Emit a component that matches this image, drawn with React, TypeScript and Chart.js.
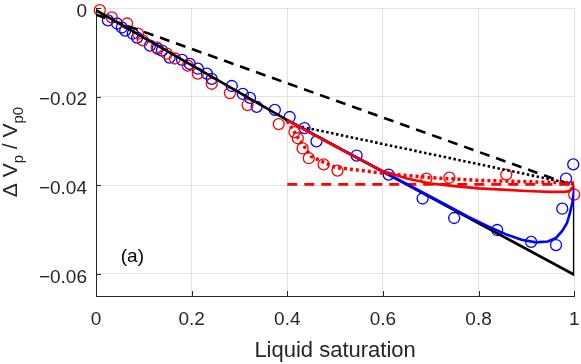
import React, { useEffect, useRef } from "react";
import { Chart, registerables } from "chart.js";
Chart.register(...registerables);

const xTickValues = [0, 0.2, 0.4, 0.6, 0.8, 1];
const yTickValues = [0, -0.02, -0.04, -0.06];
const xTitle = "Liquid saturation";
const panelLabel = "(a)";

const blueMarkerX = [0.025, 0.044, 0.054, 0.061, 0.077, 0.086, 0.113, 0.129, 0.138, 0.154, 0.18, 0.196, 0.213, 0.232, 0.242, 0.284, 0.307, 0.322, 0.336, 0.374, 0.405, 0.436, 0.461, 0.545, 0.612, 0.683, 0.749, 0.839, 0.91, 0.962, 0.975, 0.983, 0.998];
const blueMarkerY = [-0.0028, -0.0035, -0.0044, -0.0051, -0.0058, -0.0067, -0.0085, -0.0092, -0.0096, -0.0112, -0.0117, -0.0126, -0.0137, -0.0148, -0.016, -0.0176, -0.0194, -0.0203, -0.0223, -0.023, -0.0246, -0.0271, -0.0301, -0.0333, -0.0376, -0.043, -0.0474, -0.0501, -0.0528, -0.0535, -0.0453, -0.0385, -0.0353];

const redMarkerX = [0.008, 0.033, 0.065, 0.088, 0.098, 0.127, 0.148, 0.165, 0.192, 0.213, 0.242, 0.28, 0.317, 0.382, 0.415, 0.422, 0.432, 0.445, 0.476, 0.505, 0.691, 0.739, 0.858, 1.0];
const redMarkerY = [-0.0005, -0.0021, -0.0035, -0.0058, -0.0073, -0.0089, -0.0103, -0.0114, -0.013, -0.0148, -0.0171, -0.0192, -0.0219, -0.0262, -0.028, -0.0294, -0.0317, -0.0339, -0.0353, -0.0367, -0.0385, -0.0383, -0.0376, -0.0421];

const blackSolidX = [0, 0.4, 1, 1];
const blackSolidY = [-0.0005, -0.0253, -0.0602, -0.0398];

const blackDashedX = [0, 1];
const blackDashedY = [-0.0015, -0.0402];

const blackDottedX = [0.42, 1];
const blackDottedY = [-0.0266, -0.0398];

const redDashedX = [0.4, 1];
const redDashedY = [-0.0398, -0.0398];

const redDottedX = [0.4, 0.42, 0.45, 0.5, 0.55, 0.6, 0.7, 0.8, 0.9, 1.0];
const redDottedY = [-0.0255, -0.0289, -0.0335, -0.036, -0.0366, -0.0373, -0.0383, -0.0389, -0.0392, -0.0395];

const redSolidX = [0.4, 0.45, 0.5, 0.55, 0.6, 0.65, 0.7, 0.75, 0.8, 0.85, 0.9, 0.95, 0.98, 0.99, 1.0];
const redSolidY = [-0.0253, -0.0283, -0.0312, -0.0341, -0.0368, -0.0385, -0.0396, -0.0402, -0.0407, -0.041, -0.0413, -0.0415, -0.0415, -0.0413, -0.04];

const blueSolidX = [0.4, 0.5, 0.6, 0.7, 0.78, 0.82, 0.86, 0.89, 0.92, 0.945, 0.962, 0.975, 0.985, 0.991, 0.996, 0.999, 1.0];
const blueSolidY = [-0.0253, -0.0311, -0.0369, -0.0426, -0.0472, -0.0493, -0.0512, -0.0523, -0.0529, -0.0527, -0.0519, -0.0503, -0.0485, -0.0463, -0.044, -0.0418, -0.04];

const pts = (xs: number[], ys: number[]) => xs.map((x, i) => ({ x, y: ys[i] }));

const FONT = "'Liberation Sans', Arial, Helvetica, sans-serif";
const AXIS_COLOR = "#262626";

const overlayPlugin = {
  id: "overlay",
  beforeDatasetsDraw(chart: any) {
    const { ctx, chartArea, scales } = chart;
    const x = scales.x;
    const y = scales.y;
    ctx.save();
    ctx.strokeStyle = AXIS_COLOR;
    ctx.lineWidth = 1;
    ctx.beginPath();
    for (const v of xTickValues) {
      const px = Math.round(x.getPixelForValue(v)) + 0.5;
      ctx.moveTo(px, chartArea.bottom);
      ctx.lineTo(px, chartArea.bottom - 5);
    }
    for (const v of yTickValues) {
      const py = Math.round(y.getPixelForValue(v)) + 0.5;
      ctx.moveTo(chartArea.left, py);
      ctx.lineTo(chartArea.left + 5, py);
    }
    ctx.stroke();
    ctx.restore();
  },
  afterDraw(chart: any) {
    const { ctx, chartArea, scales } = chart;
    const x = scales.x;
    const y = scales.y;
    ctx.save();
    ctx.fillStyle = "#000";
    ctx.font = `19px ${FONT}`;
    ctx.textAlign = "center";
    ctx.textBaseline = "middle";
    ctx.fillText(panelLabel, x.getPixelForValue(0.076), y.getPixelForValue(-0.0562));

    ctx.fillStyle = AXIS_COLOR;
    ctx.font = `22px ${FONT}`;
    ctx.textAlign = "center";
    ctx.textBaseline = "middle";
    ctx.fillText(xTitle, (chartArea.left + chartArea.right) / 2, 351);

    const parts = [
      { t: "\u0394 V", size: 21, dy: 0 },
      { t: "p", size: 15, dy: 6 },
      { t: " / V", size: 21, dy: 0 },
      { t: "p0", size: 15, dy: 6 },
    ];
    let total = 0;
    const widths = parts.map((p) => {
      ctx.font = `${p.size}px ${FONT}`;
      const w = ctx.measureText(p.t).width;
      total += w;
      return w;
    });
    ctx.translate(17, (chartArea.top + chartArea.bottom) / 2);
    ctx.rotate(-Math.PI / 2);
    ctx.textAlign = "left";
    ctx.textBaseline = "alphabetic";
    let cx = -total / 2;
    parts.forEach((p, i) => {
      ctx.font = `${p.size}px ${FONT}`;
      ctx.fillText(p.t, cx, p.dy);
      cx += widths[i];
    });
    ctx.restore();
  },
};

export default function App() {
  const ref = useRef<HTMLCanvasElement | null>(null);
  useEffect(() => {
    if (!ref.current) return;
    const lineDs = (label: string, xs: number[], ys: number[], color: string, width: number, dash: number[], order: number) => ({
      label,
      data: pts(xs, ys),
      showLine: true,
      borderColor: color,
      backgroundColor: color,
      borderWidth: width,
      borderDash: dash,
      borderCapStyle: "butt",
      pointRadius: 0,
      pointHoverRadius: 0,
      tension: 0,
      fill: false,
      order,
    });
    const markerDs = (label: string, xs: number[], ys: number[], color: string, order: number) => ({
      label,
      data: pts(xs, ys),
      showLine: false,
      pointStyle: "circle",
      pointRadius: 5.5,
      pointBorderWidth: 1.3,
      pointBorderColor: color,
      pointBackgroundColor: "rgba(0,0,0,0)",
      borderColor: color,
      backgroundColor: "rgba(0,0,0,0)",
      clip: false,
      order,
    });
    const chart = new Chart(ref.current, {
      type: "scatter",
      data: {
        datasets: [
          markerDs("blue markers", blueMarkerX, blueMarkerY, "#0000ff", 10),
          markerDs("red markers", redMarkerX, redMarkerY, "#ff0000", 9),
          lineDs("black solid", blackSolidX, blackSolidY, "#000000", 2.6, [], 8),
          lineDs("black dashed", blackDashedX, blackDashedY, "#000000", 2.6, [10, 7], 7),
          lineDs("black dotted", blackDottedX, blackDottedY, "#000000", 2.6, [2.5, 2.5], 6),
          lineDs("red dashed", redDashedX, redDashedY, "#ff0000", 2.6, [10, 7], 5),
          lineDs("blue solid", blueSolidX, blueSolidY, "#0000ff", 2.6, [], 4),
          lineDs("red solid", redSolidX, redSolidY, "#ff0000", 2.6, [], 3),
          lineDs("red dotted", redDottedX, redDottedY, "#ff0000", 3.5, [3, 3], 2),
        ] as any,
      },
      options: {
        animation: false,
        responsive: false,
        devicePixelRatio: 1,
        layout: { padding: { top: 8, right: 6, left: 0, bottom: 0 } },
        plugins: { legend: { display: false }, tooltip: { enabled: false } },
        scales: {
          x: {
            type: "linear",
            min: 0,
            max: 1,
            afterFit: (s: any) => { s.height = 68; s.paddingLeft = 0; s.paddingRight = 0; },
            afterBuildTicks: (s: any) => { s.ticks = xTickValues.map((v) => ({ value: v })); },
            ticks: {
              color: AXIS_COLOR,
              font: { family: FONT, size: 19 },
              padding: 12,
              maxRotation: 0,
              callback: (v: any) => String(v).replace("-", "\u2212"),
            },
            grid: { color: "#e3e3e3", lineWidth: 1, drawTicks: false },
            border: { display: true, color: AXIS_COLOR, width: 1 },
          },
          y: {
            type: "linear",
            min: -0.065,
            max: 0,
            afterFit: (s: any) => { s.width = 96; s.paddingTop = 0; s.paddingBottom = 0; },
            afterBuildTicks: (s: any) => { s.ticks = yTickValues.map((v) => ({ value: v })); },
            ticks: {
              color: AXIS_COLOR,
              font: { family: FONT, size: 19 },
              padding: 9,
              labelOffset: 3.5,
              callback: (v: any) => (v === 0 ? "0" : String(v).replace("-", "\u2212")),
            },
            grid: { color: "#e3e3e3", lineWidth: 1, drawTicks: false },
            border: { display: true, color: AXIS_COLOR, width: 1 },
          },
        },
      } as any,
      plugins: [overlayPlugin],
    });
    return () => chart.destroy();
  }, []);
  return (
    <div style={{ position: "absolute", left: 0, top: 0, width: 581, height: 364, background: "#fff" }}>
      <canvas ref={ref} width={581} height={364} style={{ width: 581, height: 364, display: "block" }} />
    </div>
  );
}
